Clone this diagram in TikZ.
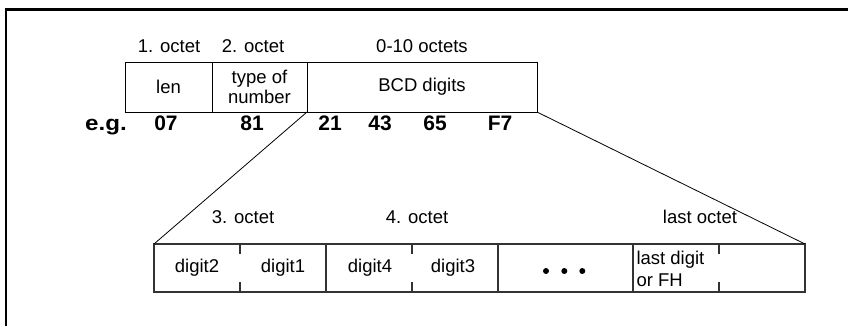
\documentclass[tikz,border=0pt]{standalone}
\usepackage{fontspec}
\setmainfont{Liberation Sans}
\begin{document}
\begin{tikzpicture}[x=1pt,y=-1pt,
  txt/.style={inner sep=0pt, outer sep=0pt, font=\fontsize{18.5}{21}\selectfont},
  big/.style={inner sep=0pt, outer sep=0pt, anchor=base, font=\fontsize{21}{24}\selectfont\bfseries},
  topcell/.style={draw, line width=1pt, inner sep=0pt, outer sep=0pt, minimum height=50pt, align=center, font=\fontsize{18.5}{20}\selectfont},
  botcell/.style={draw, line width=1.1pt, draw=black!80, inner sep=0pt, outer sep=0pt, minimum height=48pt},
  tick/.style={line width=1.1pt, draw=black!80},
  thin/.style={line width=0.8pt}]
\useasboundingbox (0,0) rectangle (848,325);
% frame
\draw[line width=2.5pt] (6,326) -- (6,9.7) -- (849,9.7);
% top header labels
\node[txt] (h1) at (169,46) {1. octet};
\node[txt] (h2) at (253,46) {2. octet};
\node[txt] (h3) at (422,46) {0-10 octets};
% top cells
\node[topcell, minimum width=87pt] (len) at (168.5,87) {len};
\node[topcell, minimum width=95pt] (ton) at (259.5,87) {type of\\number};
\node[topcell, minimum width=230pt] (bcd) at (422,87) {BCD digits};
% example values
\node[big] (eg) at (106,130.5) {\scalebox{1.15}[1]{e.g.}};
\node[big] (v07) at (166,130.5) {07};
\node[big] (v81) at (252,130.5) {81};
\node[big] (v21) at (330,130.5) {21};
\node[big] (v43) at (380,130.5) {43};
\node[big] (v65) at (435,130.5) {65};
\node[big] (vF7) at (500,130.5) {F7};
% bottom labels
\node[txt] (o3) at (243,217) {3. octet};
\node[txt] (o4) at (417,217) {4. octet};
\node[txt] (ol) at (700,217) {last octet};
% bottom cells
\node[botcell, minimum width=172pt] (c1) at (240,268) {};
\node[botcell, minimum width=172pt] (c2) at (412,268) {};
\node[botcell, minimum width=135pt] (c3) at (565.5,268) {};
\node[botcell, minimum width=172pt] (c4) at (719,268) {};
% half ticks
\foreach \c in {c1,c2,c4}{
  \draw[tick] (\c.north) -- ++(0,10);
  \draw[tick] (\c.south) -- ++(0,-10);
}
% cell texts
\node[txt] (d2) at (197,268) {digit2};
\node[txt] (d1) at (283,268) {digit1};
\node[txt] (d4) at (370,268) {digit4};
\node[txt] (d3) at (453,268) {digit3};
\node[txt, align=left, anchor=west, font=\fontsize{18.5}{22}\selectfont] (ld) at (636.5,269) {last digit\\or FH};
\foreach \xx in {546,564.3,582.3}{
  \fill (\xx,271) circle (3pt);
}
% diagonals
\draw[thin] (ton.south east) -- (c1.north west);
\draw[thin] (bcd.south east) -- (c4.north east);
\end{tikzpicture}
\end{document}
